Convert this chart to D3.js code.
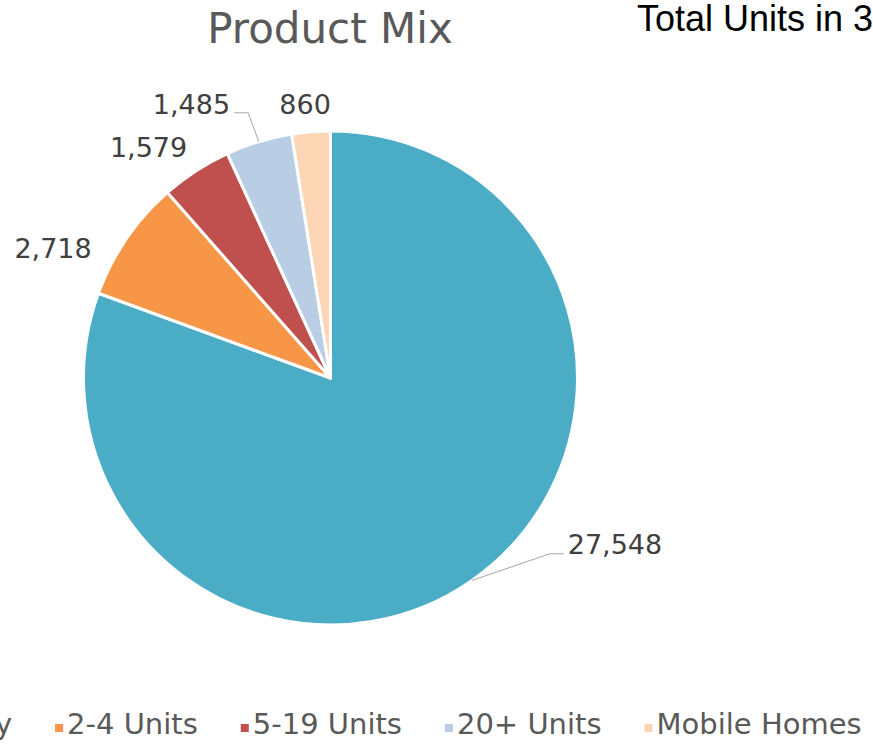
<!DOCTYPE html>
<html>
<head>
<meta charset="utf-8">
<script src="https://cdn.jsdelivr.net/npm/d3@7"></script>
<style>
  html, body { margin: 0; padding: 0; background: #fff; overflow: hidden; }
  svg { display: block; }
</style>
</head>
<body>
<svg id="chart" width="873" height="746"></svg>
<script>
// Housing product mix, units by structure type
const categories = ["Single Family", "2-4 Units", "5-19 Units", "20+ Units", "Mobile Homes"];
const units = [27548, 2718, 1579, 1485, 860];
const colors = ["#4BACC6", "#F79646", "#C0504D", "#B9CDE5", "#FCD5B5"];
const totalLabel = "Total Units in " + d3.format(",")(d3.sum(units));

// Where each value label sits: polar angle (deg, clockwise from 12 o'clock),
// distance from the centre, text anchor, and whether a leader line is drawn.
const labelPlacement = [
  { angle: 125.1, dist: 290, anchor: "start", leader: true },
  { angle: 298.6, dist: 272, anchor: "end", leader: false },
  { angle: 328.2, dist: 272, anchor: "end", leader: false },
  { angle: 339.9, dist: 292, anchor: "end", leader: true },
  { angle: 354.7, dist: 275, anchor: "middle", leader: false }
];

const svg = d3.select("#chart");
const cx = 330.5, cy = 378, radius = 247;
const fontFace = "'DejaVu Sans', Verdana, sans-serif";

// Title
svg.append("text")
  .attr("x", 330).attr("y", 43)
  .attr("text-anchor", "middle")
  .style("font-family", fontFace)
  .style("font-size", "42px")
  .style("fill", "#595959")
  .text("Product Mix");

// Side caption (runs off the right edge)
svg.append("text")
  .attr("x", 637).attr("y", 31)
  .style("font-family", "'Liberation Sans', Arial, sans-serif")
  .style("font-size", "36px")
  .style("fill", "#000")
  .text(totalLabel);

const data = categories.map((c, i) => ({ name: c, value: units[i], color: colors[i], place: labelPlacement[i] }));

const pie = d3.pie().value(d => d.value).sort(null);
const arc = d3.arc().innerRadius(0).outerRadius(radius);
const arcs = pie(data);

const g = svg.append("g").attr("transform", `translate(${cx},${cy})`);

g.selectAll("path.slice")
  .data(arcs)
  .join("path")
  .attr("class", "slice")
  .attr("d", arc)
  .attr("fill", d => d.data.color)
  .attr("stroke", "#fff")
  .attr("stroke-width", 3)
  .attr("stroke-linejoin", "round");

const polar = (deg, r) => {
  const a = deg * Math.PI / 180;
  return [r * Math.sin(a), -r * Math.cos(a)];
};

// Leader lines
arcs.forEach(d => {
  const p = d.data.place;
  if (!p.leader) return;
  const mid = (d.startAngle + d.endAngle) / 2;
  const p0 = [radius * Math.sin(mid), -radius * Math.cos(mid)];
  const [ax, ay] = polar(p.angle, p.dist);
  const dir = p.anchor === "start" ? -1 : 1;
  const p2 = [ax + dir * 4, ay + 9];
  const p1 = [p2[0] + dir * 14, p2[1]];
  g.append("polyline")
    .attr("points", [p0, p1, p2].map(q => q.join(",")).join(" "))
    .attr("fill", "none")
    .attr("stroke", "#A6A6A6")
    .attr("stroke-width", 1);
});

// Value labels
g.selectAll("text.value")
  .data(arcs)
  .join("text")
  .attr("class", "value")
  .attr("x", d => polar(d.data.place.angle, d.data.place.dist)[0])
  .attr("y", d => polar(d.data.place.angle, d.data.place.dist)[1])
  .attr("dy", "0.36em")
  .attr("text-anchor", d => d.data.place.anchor)
  .style("font-family", fontFace)
  .style("font-size", "27px")
  .style("fill", "#404040")
  .text(d => d3.format(",")(d.data.value));

// Legend, centred under the pie
const legend = svg.append("g");
const items = legend.selectAll("g.item")
  .data(data)
  .join("g")
  .attr("class", "item");
items.append("rect")
  .attr("width", 8).attr("height", 8)
  .attr("y", -10)
  .attr("fill", d => d.color);
items.append("text")
  .attr("x", 12)
  .style("font-family", fontFace)
  .style("font-size", "29px")
  .style("fill", "#595959")
  .text(d => d.name);

let offset = 0;
const gap = 43;
items.each(function () {
  const w = 12 + d3.select(this).select("text").node().getComputedTextLength();
  d3.select(this).attr("transform", `translate(${offset},0)`);
  offset += w + gap;
});
const legendWidth = offset - gap;
legend.attr("transform", `translate(${335 - legendWidth / 2},734)`);
</script>
</body>
</html>
